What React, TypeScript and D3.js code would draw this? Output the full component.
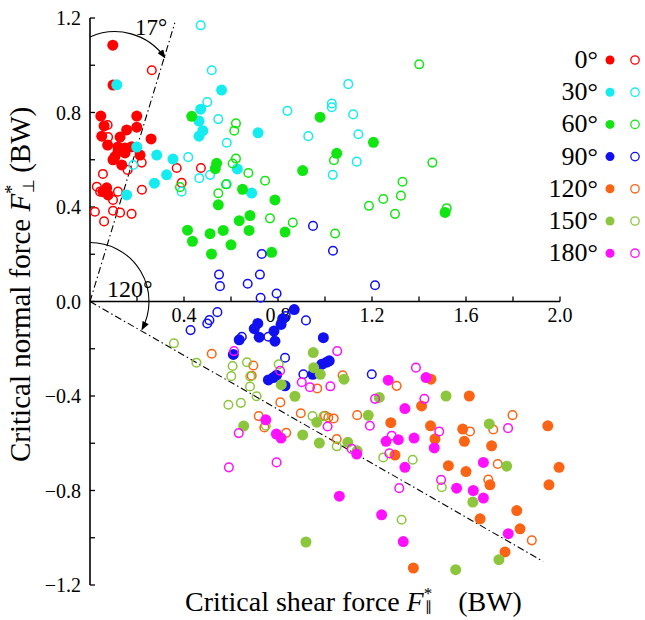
import React from 'react';
import * as d3 from 'd3';

type Pt = [number, number];

// ---------- data (critical shear force, critical normal force) in BW ----------
const deg0Filled: Pt[] = [
  [0.097, 1.085], [0.098, 0.916], [0.046, 0.785], [0.199, 0.785], [0.06, 0.743], [0.156, 0.726],
  [0.199, 0.738], [0.05, 0.70], [0.128, 0.696], [0.26, 0.688], [0.075, 0.662], [0.119, 0.654],
  [0.149, 0.65], [0.177, 0.655], [0.106, 0.613], [0.213, 0.62], [0.119, 0.634], [0.149, 0.629],
  [0.098, 0.60], [0.135, 0.578], [0.071, 0.481], [0.055, 0.465], [0.077, 0.451],
];
const deg0Open: Pt[] = [
  [0.263, 0.979], [0.075, 0.747], [0.077, 0.696], [0.22, 0.588], [0.16, 0.557], [0.055, 0.54],
  [0.029, 0.486], [0.043, 0.465], [0.119, 0.465], [0.221, 0.473], [0.098, 0.43], [0.021, 0.38],
  [0.06, 0.339], [0.098, 0.384], [0.128, 0.376], [0.177, 0.371], [0.369, 0.565], [0.39, 0.502],
  [0.472, 0.565],
];
const deg30Filled: Pt[] = [
  [0.114, 0.917], [0.56, 0.895], [0.471, 0.814], [0.464, 0.764], [0.48, 0.723], [0.464, 0.70],
  [0.715, 0.714], [0.199, 0.654], [0.284, 0.62], [0.353, 0.603], [0.326, 0.536], [0.274, 0.501],
  [0.156, 0.451], [0.627, 0.561], [0.688, 0.459],
];
const deg30Open: Pt[] = [
  [0.471, 1.169], [0.518, 0.979], [0.499, 0.844], [0.546, 0.772], [0.582, 0.672], [0.84, 0.807],
  [0.929, 0.70], [1.029, 0.838], [1.029, 0.822], [1.099, 0.92], [1.12, 0.792], [1.142, 0.708],
  [1.135, 0.592], [1.033, 0.536], [0.418, 0.611], [0.465, 0.522], [0.511, 0.536], [0.39, 0.465],
  [0.184, 0.578], [0.582, 0.497],
];
const deg60Filled: Pt[] = [
  [0.433, 0.784], [0.979, 0.78], [1.206, 0.674], [1.05, 0.627], [0.905, 0.554], [0.539, 0.585],
  [0.533, 0.562], [0.649, 0.475], [0.546, 0.409], [0.787, 0.43], [0.635, 0.342], [0.681, 0.364],
  [0.415, 0.302], [0.436, 0.255], [0.511, 0.287], [0.567, 0.301], [0.677, 0.301], [0.517, 0.201],
  [0.60, 0.24], [0.83, 0.294], [0.773, 0.208], [1.511, 0.377],
];
const deg60Open: Pt[] = [
  [0.621, 0.754], [0.614, 0.723], [0.621, 0.605], [0.607, 0.584], [0.674, 0.544], [0.745, 0.511],
  [0.579, 0.496], [0.546, 0.458], [0.383, 0.484], [0.766, 0.352], [0.863, 0.334], [1.038, 0.598],
  [1.043, 0.288], [1.401, 1.004], [1.457, 0.588], [1.33, 0.507], [1.323, 0.448], [1.248, 0.434],
  [1.187, 0.405], [1.298, 0.371], [1.518, 0.395],
];
const deg90Filled: Pt[] = [
  [0.869, -0.034], [0.714, -0.093], [0.699, -0.115], [0.82, -0.073], [0.813, -0.097], [0.783, -0.125],
  [0.787, -0.168], [0.635, -0.162], [0.72, -0.151], [0.61, -0.224], [0.759, -0.332], [0.78, -0.322],
  [0.794, -0.312], [0.83, -0.357], [0.993, -0.153], [0.986, -0.266], [1.007, -0.257], [1.018, -0.251],
  [0.948, -0.308],
];
const deg90Open: Pt[] = [
  [0.949, 0.32], [1.034, 0.215], [1.213, 0.069], [0.731, 0.201], [0.549, 0.114], [0.723, 0.114],
  [0.553, 0.065], [0.671, 0.075], [0.726, 0.016], [0.794, 0.034],
  [0.428, -0.121], [0.499, -0.093], [0.508, -0.079], [0.542, -0.045], [0.833, -0.062], [0.919, -0.08],
  [0.646, -0.149], [0.759, -0.149], [0.83, -0.238], [0.908, -0.308], [1.199, -0.308],
];
const deg120Filled: Pt[] = [
  [1.451, -0.329], [1.614, -0.40], [1.411, -0.442], [1.28, -0.513], [1.449, -0.526], [1.586, -0.54],
  [1.948, -0.526], [1.468, -0.582], [1.593, -0.592], [1.709, -0.611], [1.298, -0.65], [1.525, -0.695],
  [1.60, -0.72], [1.996, -0.702], [1.702, -0.776], [1.953, -0.776], [1.816, -0.885], [1.66, -0.92],
  [1.83, -0.962], [1.766, -1.06], [1.376, -1.128],
];
const deg120Open: Pt[] = [
  [0.518, -0.221], [0.695, -0.271], [0.688, -0.314], [0.81, -0.427], [0.967, -0.368], [1.075, -0.312],
  [1.305, -0.357], [0.718, -0.485], [0.742, -0.533], [0.835, -0.556], [0.897, -0.473], [1.0, -0.484],
  [1.014, -0.491], [1.037, -0.495], [1.137, -0.481], [1.05, -0.582], [1.617, -0.55], [1.716, -0.542],
  [1.798, -0.481], [1.735, -0.688], [1.695, -0.754], [1.88, -1.011],
];
const deg150Filled: Pt[] = [
  [0.814, -0.352], [0.872, -0.401], [0.95, -0.216], [0.952, -0.28], [0.98, -0.308], [1.081, -0.329],
  [1.231, -0.406], [1.515, -0.40], [0.654, -0.527], [0.965, -0.511], [0.905, -0.565], [0.976, -0.599],
  [1.097, -0.596], [1.137, -0.632], [1.184, -0.482], [1.699, -0.518], [1.773, -0.697], [1.629, -0.849],
  [0.919, -1.018], [1.74, -1.093], [1.556, -1.135],
];
const deg150Open: Pt[] = [
  [0.357, -0.177], [0.453, -0.259], [0.607, -0.273], [0.601, -0.316], [0.668, -0.257], [0.682, -0.317],
  [0.681, -0.36], [0.709, -0.401], [0.589, -0.437], [0.642, -0.429], [0.803, -0.266], [0.748, -0.526],
  [0.947, -0.485], [0.993, -0.486], [1.05, -0.613], [1.248, -0.66], [1.373, -0.67], [1.497, -0.786],
  [1.326, -0.924],
];
const deg180Filled: Pt[] = [
  [0.748, -0.501], [0.793, -0.561], [0.813, -0.578], [1.269, -0.333], [1.43, -0.322], [1.34, -0.453],
  [1.26, -0.592], [1.312, -0.585], [1.379, -0.578], [1.465, -0.62], [1.135, -0.646], [1.34, -0.702],
  [1.674, -0.681], [1.56, -0.79], [1.631, -0.80], [1.674, -0.832], [1.061, -0.824], [1.241, -0.903],
  [1.78, -0.983], [1.333, -1.016],
];
const deg180Open: Pt[] = [
  [0.613, -0.21], [0.809, -0.293], [0.901, -0.342], [0.936, -0.363], [1.023, -0.359], [1.052, -0.21],
  [1.387, -0.28], [1.213, -0.412], [1.423, -0.412], [0.633, -0.557], [1.011, -0.529], [1.191, -0.526],
  [1.284, -0.568], [1.486, -0.55], [1.779, -0.536], [1.114, -0.624], [1.274, -0.643], [1.494, -0.755],
  [1.316, -0.79], [0.794, -0.681], [0.591, -0.702],
];

const seriesLabels = ['0°', '30°', '60°', '90°', '120°', '150°', '180°'];
const seriesColors = ['#ff0000', '#14ecf0', '#12e612', '#1010f0', '#fa6414', '#8cc63c', '#ff10ff'];
const filledSets = [deg0Filled, deg30Filled, deg60Filled, deg90Filled, deg120Filled, deg150Filled, deg180Filled];
const openSets = [deg0Open, deg30Open, deg60Open, deg90Open, deg120Open, deg150Open, deg180Open];

const xTickValues = [0.2, 0.4, 0.6, 0.8, 1.0, 1.2, 1.4, 1.6, 1.8, 2.0];
const xTickLabels = ['0.4', '0.8', '1.2', '1.6', '2.0'];
const yTickValues = [-1.2, -1.0, -0.8, -0.6, -0.4, -0.2, 0, 0.2, 0.4, 0.6, 0.8, 1.0, 1.2];
const yTickLabels = ['1.2', '0.8', '0.4', '0.0', '−0.4', '−0.8', '−1.2'];

// reference lines (angle from the normal axis: 17° and 120°)
const line17: Pt[] = [[0, 0], [0.361, 1.18]];
const line120: Pt[] = [[0, 0], [1.928, -1.1]];

const FONT = '"Liberation Serif", "Times New Roman", serif';

export default function App() {
  const x = d3.scaleLinear().domain([0, 2]).range([90, 560]);
  const y = d3.scaleLinear().domain([-1.2, 1.2]).range([585, 18]);
  const lineGen = d3.line<Pt>().x((d) => x(d[0])).y((d) => y(d[1]));

  const x0 = x(0);
  const y0 = y(0);

  // arc for 17°
  const a17 = d3.path();
  const c17x = x(0.106), c17y = y(0.884);
  a17.arc(c17x, c17y, 61, Math.atan2(-56, -25), Math.atan2(-35, 50), false);
  // arc for 120°
  const a120 = d3.path();
  a120.arc(x0, y0, 59, -Math.PI / 2, Math.PI / 6 - 0.03, false);

  const filledR = 5.5;
  const openR = 4.3;

  return (
    <svg width={645} height={620} style={{ position: 'absolute', left: 0, top: 0, background: '#fff' }}
      fontFamily={FONT}>
      <defs>
        <marker id="arr" viewBox="0 0 10 8" refX="9" refY="4" markerWidth="9" markerHeight="7"
          orient="auto" markerUnits="userSpaceOnUse">
          <path d="M0,0 L10,4 L0,8 z" fill="#000" />
        </marker>
      </defs>
      <rect x={0} y={0} width={645} height={620} fill="#fff" />

      {/* reference lines */}
      <path d={lineGen(line17) || ''} fill="none" stroke="#000" strokeWidth={1.1} strokeDasharray="7,3,1.5,3" />
      <path d={lineGen(line120) || ''} fill="none" stroke="#000" strokeWidth={1.1} strokeDasharray="7,3,1.5,3" />
      <path d={a17.toString()} fill="none" stroke="#000" strokeWidth={1.1} markerEnd="url(#arr)" />
      <path d={a120.toString()} fill="none" stroke="#000" strokeWidth={1.1} markerEnd="url(#arr)" />
      <text x={135} y={35} fontSize={23}>17°</text>
      <text x={107} y={297} fontSize={24}>120°</text>

      {/* axes */}
      <line x1={x0} x2={x0} y1={y(1.2)} y2={y(-1.2)} stroke="#000" strokeWidth={1.6} />
      <line x1={x0} x2={x(2)} y1={y0} y2={y0} stroke="#000" strokeWidth={1.6} />
      {yTickValues.map((v) => (
        <line key={'yt' + v} x1={x0} x2={x0 + 5} y1={y(v)} y2={y(v)} stroke="#000" strokeWidth={1.3} />
      ))}
      {xTickValues.map((v) => (
        <line key={'xt' + v} x1={x(v)} x2={x(v)} y1={y0} y2={y0 - 5} stroke="#000" strokeWidth={1.3} />
      ))}
      {yTickLabels.map((t) => {
        const v = parseFloat(t.replace('−', '-'));
        return (
          <text key={'yl' + t} x={81} y={y(v) + 7} fontSize={20} textAnchor="end">{t}</text>
        );
      })}
      {xTickLabels.map((t) => {
        const v = parseFloat(t);
        return (
          <text key={'xl' + t} x={x(v)} y={322} fontSize={20} textAnchor="middle">{t}</text>
        );
      })}

      {/* points */}
      {seriesColors.map((c, i) => (
        <g key={'s' + i}>
          {filledSets[i].map((d, j) => (
            <circle key={'f' + j} cx={x(d[0])} cy={y(d[1])} r={filledR} fill={c} />
          ))}
          {openSets[i].map((d, j) => (
            <circle key={'o' + j} cx={x(d[0])} cy={y(d[1])} r={openR} fill="none" stroke={c} strokeWidth={1.5} />
          ))}
        </g>
      ))}

      {/* legend */}
      {seriesLabels.map((lab, i) => {
        const cy = 60 + i * 32.2;
        return (
          <g key={'lg' + i}>
            <text x={598} y={cy + 8} fontSize={26} textAnchor="end">{lab}</text>
            <circle cx={610} cy={cy} r={4.5} fill={seriesColors[i]} />
            <circle cx={635} cy={cy} r={4.2} fill="none" stroke={seriesColors[i]} strokeWidth={1.3} />
          </g>
        );
      })}

      {/* axis titles */}
      <text x={185} y={611} fontSize={28}>
        Critical shear force <tspan fontStyle="italic">F</tspan>
        <tspan fontSize={17} dy={-12}>*</tspan>
        <tspan fontSize={14} dx={-7} dy={12}>∥</tspan>
        <tspan fontSize={28} dy={0} dx={26}>(BW)</tspan>
      </text>
      <text transform="translate(30,462) rotate(-90)" fontSize={29}>
        Critical normal force <tspan fontStyle="italic">F</tspan>
        <tspan fontSize={18} dy={-12}>*</tspan>
        <tspan fontSize={16} dx={-8} dy={16}>⊥</tspan>
        <tspan fontSize={29} dy={-4} dx={6}>(BW)</tspan>
      </text>
    </svg>
  );
}
